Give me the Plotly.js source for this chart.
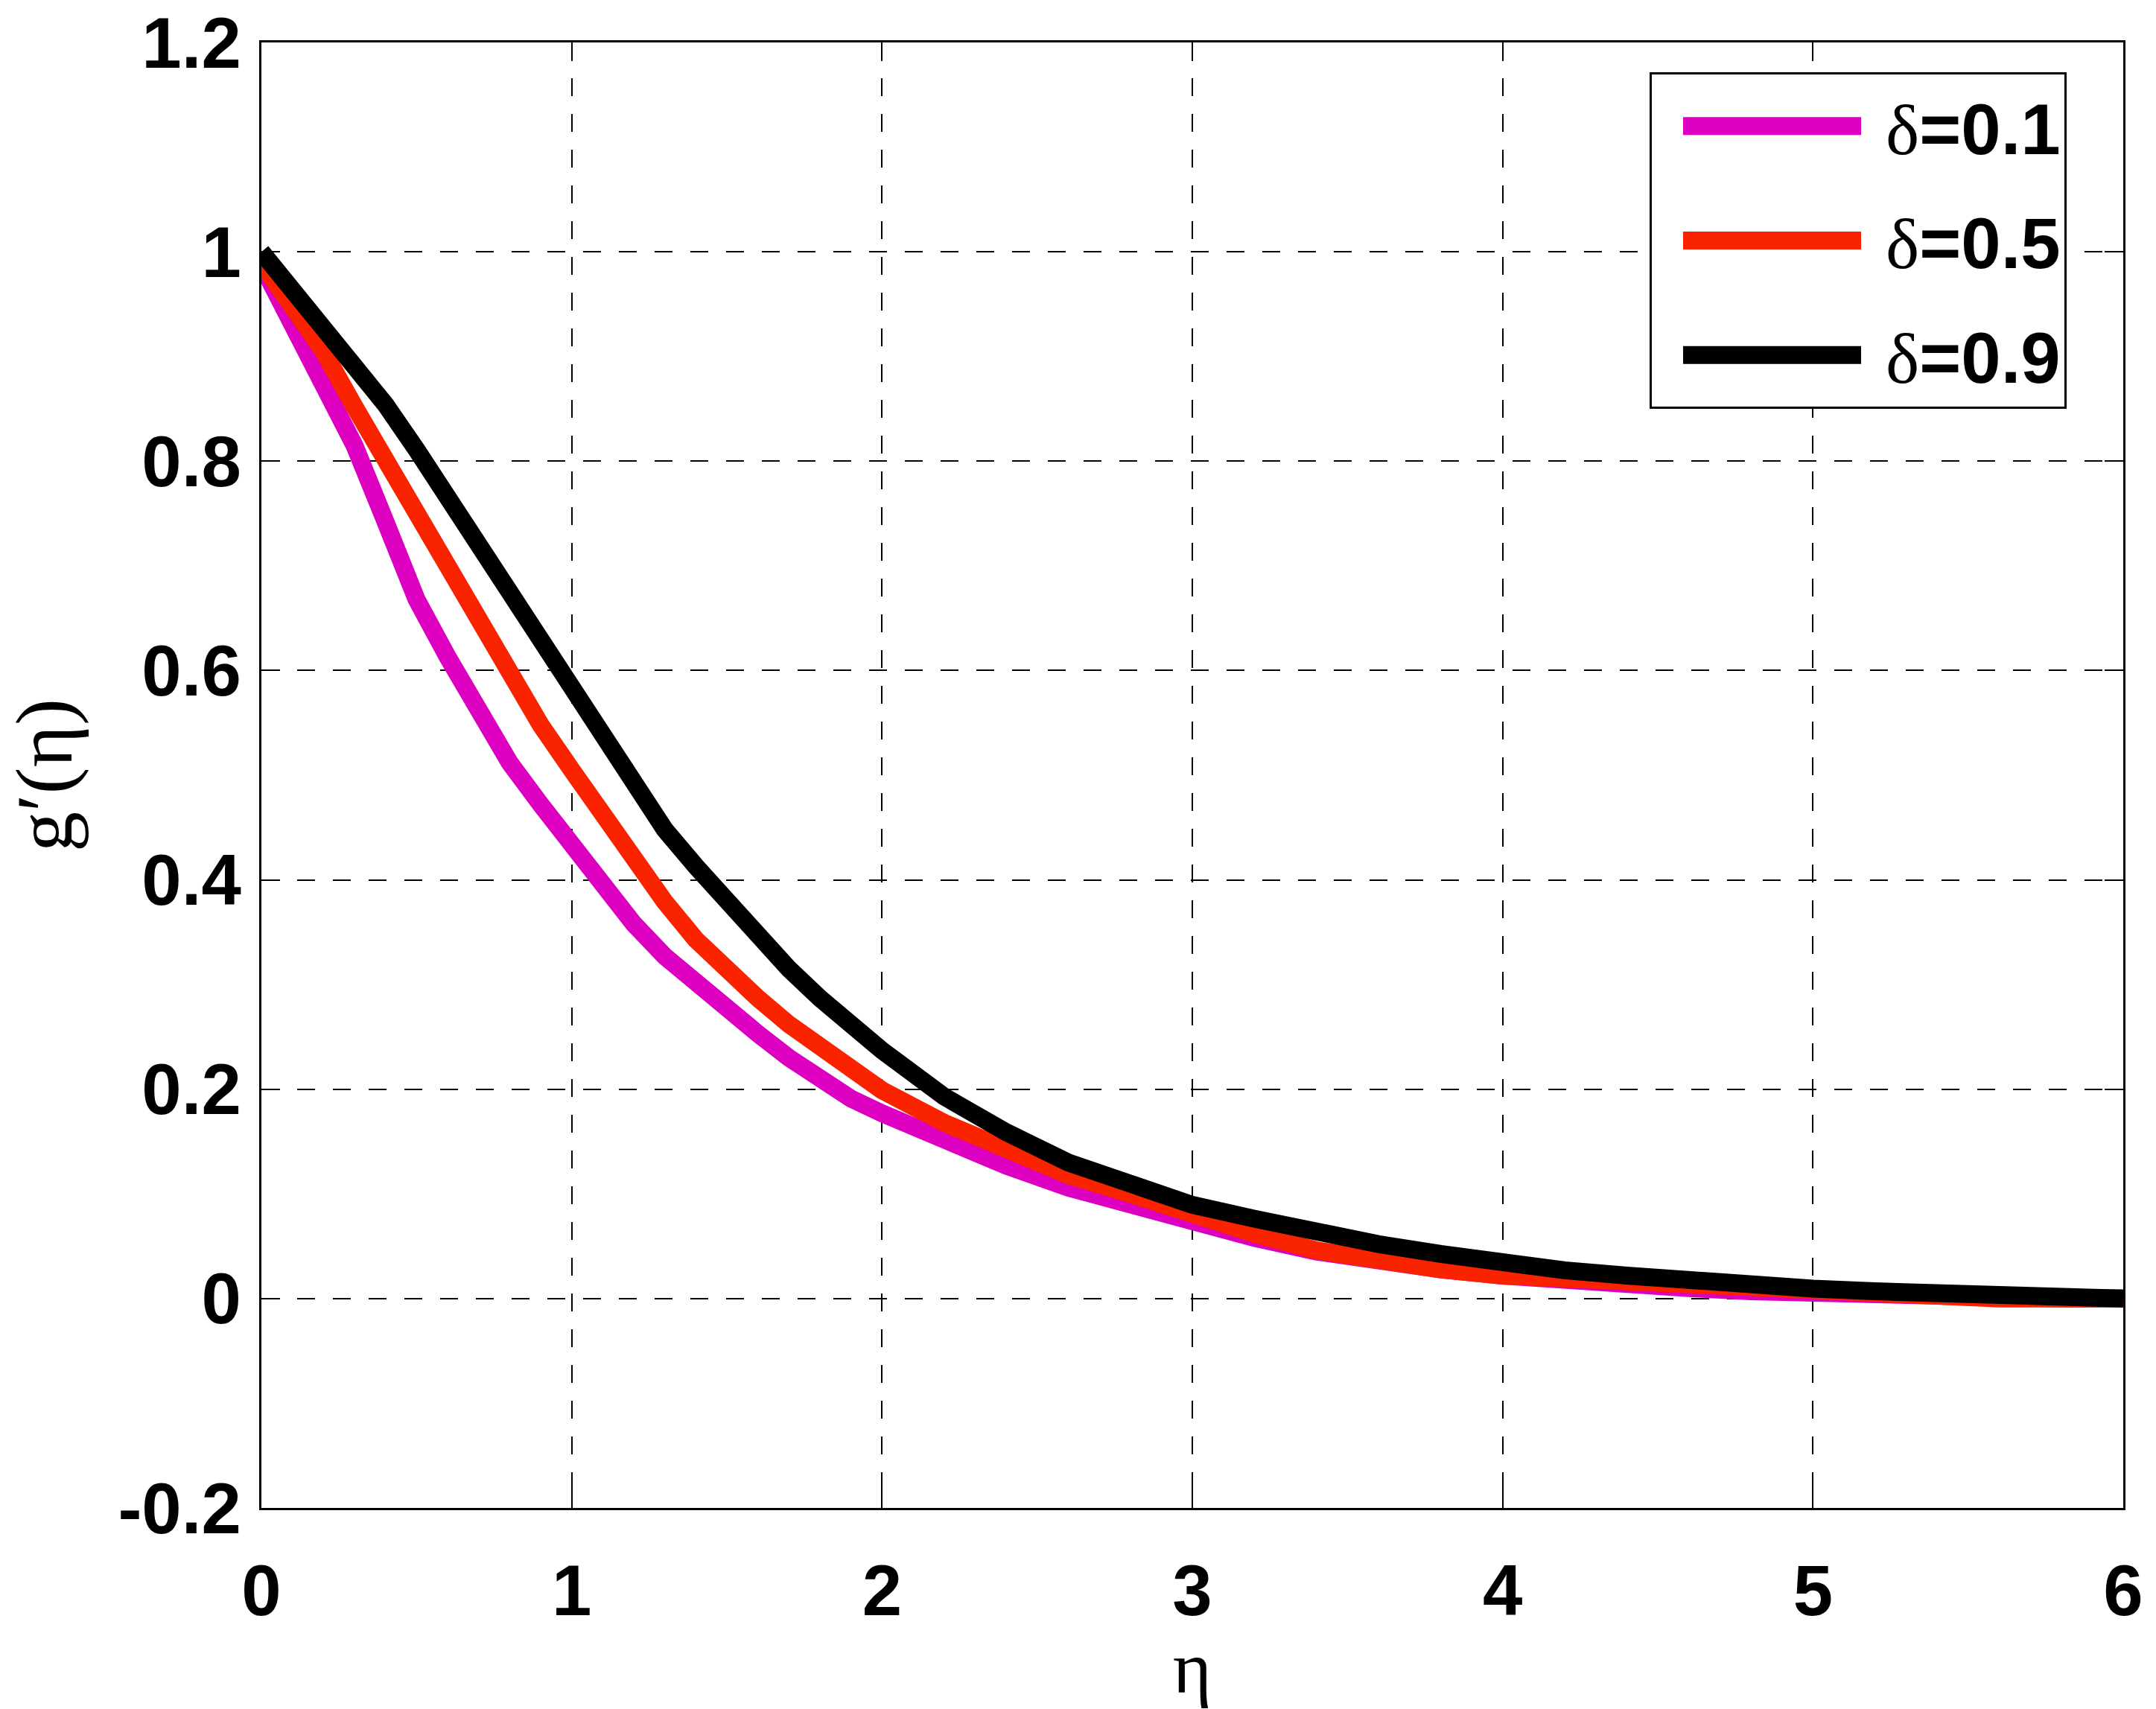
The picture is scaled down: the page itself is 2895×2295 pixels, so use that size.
<!DOCTYPE html>
<html>
<head>
<meta charset="utf-8">
<script src="https://cdn.plot.ly/plotly-3.0.1.min.js"></script>
<style>html,body{margin:0;padding:0;background:#ffffff;}</style>
</head>
<body>
<div id="chart" style="width:2895px;height:2295px;"></div>
<script>
// eta grid
const eta = [0,0.1,0.2,0.3,0.4,0.5,0.6,0.7,0.8,0.9,1.0,1.1,1.2,1.3,1.4,1.5,1.6,1.7,1.8,1.9,2.0,
             2.2,2.4,2.6,2.8,3.0,3.2,3.4,3.6,3.8,4.0,4.2,4.4,4.6,4.8,5.0,5.2,5.4,5.6,5.8,6.0];
// g'(eta) for delta = 0.1
const gDelta01 = [0.988,0.931,0.876,0.815,0.742,0.668,0.613,0.558,0.512,0.472,0.432,0.394,0.358,0.327,0.301,0.277,0.253,0.230,0.208,0.191,0.177,
                  0.151,0.127,0.106,0.089,0.072,0.058,0.045,0.035,0.028,0.022,0.017,0.013,0.010,0.007,0.005,0.003,0.001,0.0,0.0,0.0];
// g'(eta) for delta = 0.5
const gDelta05 = [0.99,0.948,0.905,0.852,0.800,0.748,0.698,0.646,0.594,0.548,0.505,0.461,0.418,0.379,0.343,0.314,0.287,0.262,0.240,0.219,0.199,
                  0.168,0.141,0.118,0.100,0.079,0.062,0.046,0.035,0.028,0.022,0.019,0.015,0.012,0.009,0.006,0.004,0.002,0.0,0.0,0.0];
// g'(eta) for delta = 0.9
const gDelta09 = [1.0,0.963,0.929,0.893,0.854,0.811,0.766,0.717,0.670,0.627,0.584,0.537,0.490,0.448,0.413,0.380,0.346,0.315,0.287,0.260,0.237,
                  0.193,0.159,0.130,0.108,0.0895,0.0763,0.0633,0.052,0.0426,0.034,0.027,0.022,0.017,0.013,0.0095,0.007,0.0045,0.002,0.0,0.0];

const seriesNames = ['<span style="font-family:\'Liberation Serif\';font-weight:normal">δ</span>=0.1',
                     '<span style="font-family:\'Liberation Serif\';font-weight:normal">δ</span>=0.5',
                     '<span style="font-family:\'Liberation Serif\';font-weight:normal">δ</span>=0.9'];
const seriesColors = ['#dd00c0', '#fa2300', '#000000'];
const seriesData = [gDelta01, gDelta05, gDelta09];

const xTickVals = [0,1,2,3,4,5,6];
const xTickText = ['0','1','2','3','4','5','6'];
const yTickVals = [-0.2,0,0.2,0.4,0.6,0.8,1.0,1.2];
const yTickText = ['-0.2','0','0.2','0.4','0.6','0.8','1','1.2'];

const traces = seriesData.map((g, i) => ({
  type: 'scatter',
  mode: 'lines',
  x: eta,
  y: g,
  name: seriesNames[i],
  legendgroup: 'g' + i,
  line: {color: seriesColors[i], width: 24, shape: 'linear'}
}));

const tickFont = {family: 'Liberation Sans, Arial, sans-serif', size: 96, color: '#000000', weight: 'bold'};

const layout = {
  width: 2895,
  height: 2295,
  paper_bgcolor: '#ffffff',
  plot_bgcolor: '#ffffff',
  margin: {l: 351, r: 44, t: 57, b: 270, pad: 0},
  showlegend: true,
  legend: {
    x: 0.7456, y: 0.9795, xanchor: 'left', yanchor: 'top',
    bgcolor: '#ffffff', bordercolor: '#000000', borderwidth: 3,
    font: {family: 'Liberation Sans, Arial, sans-serif', size: 96, color: '#000000', weight: 'bold'},
    traceorder: 'grouped', tracegroupgap: 26,
    itemwidth: 304
  },
  xaxis: {
    range: [0, 6],
    tickvals: xTickVals, ticktext: xTickText,
    tickfont: tickFont,
    ticks: 'inside', ticklen: 25, tickwidth: 2, tickcolor: '#000000',
    showline: true, linecolor: '#000000', linewidth: 3, mirror: 'ticks',
    showgrid: true, gridcolor: '#000000', gridwidth: 2, griddash: '24px,24px',
    zeroline: false,
    ticklabelstandoff: 26,
    ticklabeloverflow: 'allow',
    title: {text: 'η', font: {family: 'Liberation Serif, serif', size: 100, color: '#000000'}, standoff: 40}
  },
  yaxis: {
    range: [-0.2, 1.2],
    tickvals: yTickVals, ticktext: yTickText,
    tickfont: tickFont,
    ticks: 'inside', ticklen: 25, tickwidth: 2, tickcolor: '#000000',
    showline: true, linecolor: '#000000', linewidth: 3, mirror: 'ticks',
    showgrid: true, gridcolor: '#000000', gridwidth: 2, griddash: '24px,24px',
    zeroline: false,
    ticklabelstandoff: 5,
    ticklabeloverflow: 'allow',
    title: {text: 'g′(η)', font: {family: 'Liberation Serif, serif', size: 108, color: '#000000'}, standoff: 56}
  }
};

Plotly.newPlot('chart', traces, layout, {displayModeBar: false, staticPlot: true}).then(function (gd) {
  // legend symbol styling: thick strokes like the plotted lines
  gd.querySelectorAll('.legend .legendlines path').forEach(function (p) {
    p.style.strokeWidth = '24px';
    p.style.strokeDasharray = '0px,37px,239px,3000px';
  });
});
</script>
</body>
</html>
